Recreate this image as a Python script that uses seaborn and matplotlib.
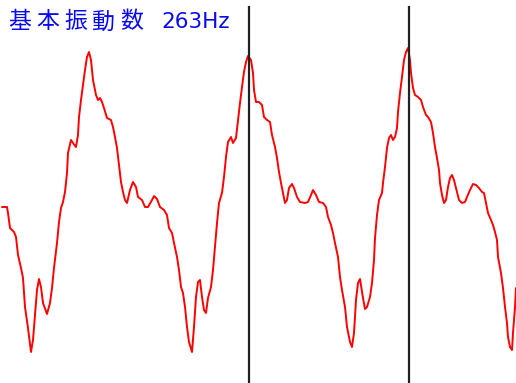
import numpy as np
import pandas as pd
import matplotlib
matplotlib.use("Agg")
import matplotlib.pyplot as plt
import seaborn as sns

# Waveform samples (sample index, amplitude)
t = [2, 7, 8, 10, 14, 16, 18, 21, 23, 25, 28, 31, 33, 35, 37, 39, 41, 43, 47, 50,
     52, 54, 57, 59, 61, 63, 65, 67, 68, 71, 73, 76, 78, 79, 81, 83, 85, 87, 89, 91,
     93, 96, 98, 100, 102, 104, 107, 111, 113, 115, 117, 119, 121, 123, 125, 127, 130, 133, 136, 138,
     142, 145, 148, 152, 154, 157, 160, 164, 167, 169, 172, 174, 177, 179, 181, 183, 185, 187, 189, 192,
     194, 196, 198, 200, 202, 204, 206, 208, 211, 213, 215, 217, 219, 222, 224, 226, 228, 231, 233, 236,
     238, 240, 242, 244, 246, 248, 251, 253, 254, 256, 259, 262, 264, 267, 270, 272, 275, 277, 279, 281,
     283, 285, 287, 289, 292, 294, 297, 300, 305, 308, 311, 313, 316, 319, 323, 326, 328, 331, 333, 335,
     338, 340, 342, 345, 347, 350, 352, 354, 356, 358, 360, 363, 365, 367, 370, 372, 374, 375, 377, 379,
     382, 383, 385, 387, 389, 391, 393, 395, 397, 398, 400, 402, 404, 406, 408, 410, 411, 413, 415, 418,
     421, 423, 426, 428, 431, 433, 435, 437, 439, 440, 442, 444, 446, 448, 450, 452, 454, 457, 459, 462,
     465, 467, 470, 473, 476, 479, 482, 484, 486, 488, 491, 493, 495, 497, 498, 501, 503, 505, 507, 508,
     510, 512, 513, 515, 516]
amplitude = [-7, -7, -13, -28, -32, -37, -55, -68, -78, -107, -128, -152, -140, -115, -90, -79, -87, -103, -114, -103,
             -88, -68, -43, -22, -8, -2, 8, 27, 47, 60, 57, 53, 65, 83, 100, 115, 130, 143, 148, 140,
             120, 105, 100, 102, 98, 92, 82, 80, 73, 63, 52, 35, 18, 8, 0, -3, 10, 18, 13, 3,
             0, -7, -7, 0, 4, 1, -7, -10, -15, -28, -33, -43, -57, -70, -87, -93, -107, -127, -142, -152,
             -127, -97, -82, -80, -97, -110, -113, -98, -87, -70, -47, -23, -3, 7, 23, 43, 58, 63, 57, 62,
             80, 97, 113, 128, 138, 144, 140, 127, 110, 98, 98, 95, 83, 80, 78, 65, 53, 42, 28, 17,
             7, -3, 0, 12, 16, 12, 3, -2, -3, -2, 5, 10, 5, -2, -3, -7, -17, -25, -33, -43,
             -57, -77, -90, -107, -127, -142, -147, -133, -100, -83, -79, -98, -109, -107, -97, -83, -60, -38, -15, 0,
             7, 17, 33, 52, 62, 65, 60, 63, 72, 88, 107, 123, 140, 148, 152, 140, 127, 112, 105, 103,
             100, 93, 85, 83, 78, 67, 53, 42, 30, 17, 5, -3, 0, 13, 22, 25, 20, 8, 0, -3,
             -2, 3, 10, 16, 15, 12, 8, 7, -3, -13, -20, -25, -32, -40, -57, -73, -88, -107, -123, -137,
             -147, -150, -133, -107, -88]
assert len(t) == len(amplitude)

# Period markers at successive waveform peaks
period_marks = [249, 409]

title_kanji = ["基", "本", "振", "動", "数"]
title_freq = "263Hz"

sns.set_style("white")
plt.rcParams["font.family"] = ["Noto Sans CJK JP", "DejaVu Sans"]

df = pd.DataFrame({"sample": t, "amplitude": amplitude})

fig = plt.figure(figsize=(5.16, 3.83), dpi=100)
ax = fig.add_axes([0, 0, 1, 1])

sns.lineplot(data=df, x="sample", y="amplitude", color="#ff0000", linewidth=1.4,
             sort=False, estimator=None, ax=ax)

ax.vlines(period_marks, ymin=-183, ymax=194, colors="#222222", linewidth=1.6, zorder=3)

# Title: kanji spaced on a fixed pitch, followed by the frequency value
for i, ch in enumerate(title_kanji):
    ax.text(8 + 28 * i, 178, ch, ha="left", va="center", fontsize=16.5,
            color="#0a0af0", family=["Noto Sans CJK JP", "DejaVu Sans"])
ax.text(161, 177.5, title_freq, ha="left", va="center", fontsize=15.5,
        color="#0a0af0", family=["DejaVu Sans"])

ax.set_xlim(0, 516)
ax.set_ylim(-183, 200)
ax.set_axis_off()

fig.savefig("out.png", dpi=100)
